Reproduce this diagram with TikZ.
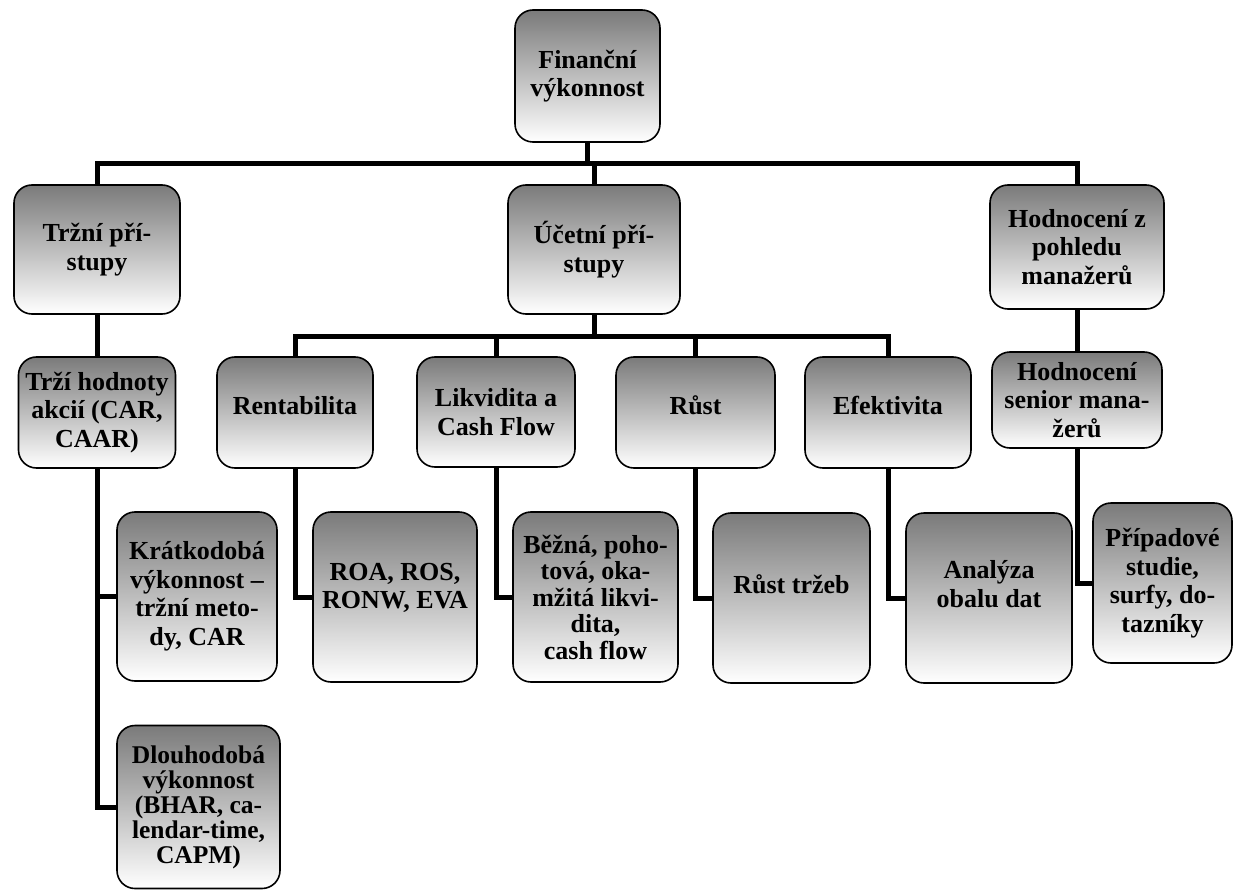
\documentclass[tikz,border=0pt]{standalone}
\usepackage{fontspec}
\setmainfont{Liberation Serif}
\begin{document}
\begin{tikzpicture}[x=1pt,y=-1pt,
  box/.style={draw=black, line width=1.6pt, rounded corners=18pt,
    top color=black!52, bottom color=white, align=center,
    font=\bfseries\fontsize{26}{28.5}\selectfont, inner sep=0pt},
  tight/.style={font=\bfseries\fontsize{25.5}{25}\selectfont},
  conn/.style={line width=5pt, black, line join=miter}]
\useasboundingbox (0,0) rectangle (1234,893);
% boxes
\node[box, minimum width=145pt, minimum height=132pt] (fin) at (587.5,76) {Finanční\\výkonnost};
\node[box, minimum width=166pt, minimum height=129pt] (trz) at (97,249.5) {Tržní pří-\\stupy};
\node[box, minimum width=172pt, minimum height=129pt] (uce) at (594,249.5) {Účetní pří-\\stupy};
\node[box, minimum width=174pt, minimum height=124pt] (hod) at (1077,247) {Hodnocení z\\pohledu\\manažerů};
\node[box, minimum width=157pt, minimum height=111pt] (tri) at (97,412.5) {Trží hodnoty\\akcií (CAR,\\CAAR)};
\node[box, minimum width=160pt, minimum height=169pt] (kra) at (197,596.5) {Krátkodobá\\výkonnost –\\tržní meto-\\dy, CAR};
\node[box, tight, minimum width=163pt, minimum height=163pt] (dlo) at (198.5,807) {Dlouhodobá\\výkonnost\\(BHAR, ca-\\lendar-time,\\CAPM)};
\node[box, minimum width=156pt, minimum height=111pt] (ren) at (295,412.5) {Rentabilita\\[-14pt]\mbox{}};
\node[box, minimum width=158pt, minimum height=110pt] (lik) at (496,412) {Likvidita a\\Cash Flow};
\node[box, minimum width=159pt, minimum height=111pt] (rus) at (695.5,412.5) {Růst\\[-14pt]\mbox{}};
\node[box, minimum width=166pt, minimum height=111pt] (efe) at (888,412.5) {Efektivita\\[-14pt]\mbox{}};
\node[box, minimum width=170pt, minimum height=96pt] (sen) at (1077,400) {Hodnocení\\senior mana-\\žerů};
\node[box, minimum width=164pt, minimum height=170pt] (roa) at (395,597) {ROA, ROS,\\RONW, EVA\\[-6pt]\mbox{}};
\node[box, font=\bfseries\fontsize{26}{26.5}\selectfont, minimum width=165pt, minimum height=170pt] (bez) at (595.5,597) {Běžná, poho-\\tová, oka-\\mžitá likvi-\\dita,\\cash flow};
\node[box, minimum width=157pt, minimum height=170pt] (rtr) at (791.5,598) {Růst tržeb\\\mbox{}};
\node[box, minimum width=166pt, minimum height=170pt] (ana) at (989,598) {Analýza\\obalu dat\\\mbox{}};
\node[box, minimum width=139pt, minimum height=160pt] (pri) at (1162.5,583) {Případové\\studie,\\surfy, do-\\tazníky};
% bus levels
\coordinate (b1) at (0,164);
\coordinate (b2) at (0,336);
% connectors
\draw[conn] (fin.south) -- (fin.south |- b1);
\draw[conn] (trz.north) -- (trz.north |- b1) -- (hod.north |- b1) -- (hod.north);
\draw[conn] (uce.north |- b1) -- (uce.north);
\draw[conn] (trz.south) -- (tri.north);
\draw[conn] (tri.south) |- (dlo.west);
\draw[conn] (tri.south |- kra.west) -- (kra.west);
\draw[conn] (uce.south) -- (uce.south |- b2);
\draw[conn] (ren.north) -- (ren.north |- b2) -- (efe.north |- b2) -- (efe.north);
\draw[conn] (lik.north |- b2) -- (lik.north);
\draw[conn] (rus.north |- b2) -- (rus.north);
\draw[conn] (ren.south) |- (roa.west);
\draw[conn] (lik.south) |- (bez.west);
\draw[conn] (rus.south) |- (rtr.west);
\draw[conn] (efe.south) |- (ana.west);
\draw[conn] (hod.south) -- (sen.north);
\draw[conn] (sen.south) |- (pri.west);
\end{tikzpicture}
\end{document}
